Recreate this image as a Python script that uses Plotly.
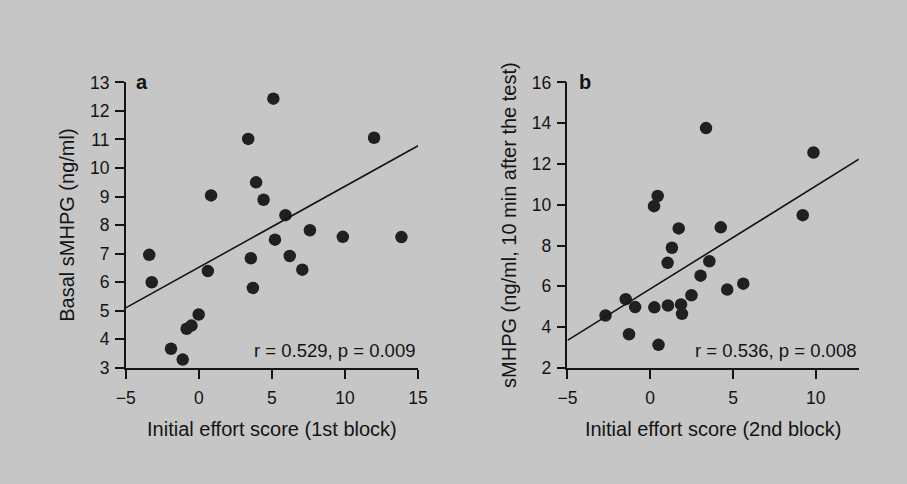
import plotly.graph_objects as go

# Panel a data
a_x = [5.10, 3.38, 11.99, 0.84, 3.92, 4.43, 5.93, 7.60, 9.85, 13.86, 5.21, 3.56,
       6.22, 7.08, 3.70, 0.62, -3.39, -3.22, -0.01, -0.50, -0.83, -1.90, -1.10]
a_y = [12.43, 11.02, 11.06, 9.04, 9.50, 8.89, 8.35, 7.82, 7.59, 7.58, 7.49, 6.84,
       6.92, 6.44, 5.80, 6.39, 6.96, 6.00, 4.87, 4.48, 4.37, 3.67, 3.29]
a_fit_x = [-5, 15]
a_fit_y = [5.10, 10.78]

# Panel b data
b_x = [3.37, 9.86, 9.21, 0.45, 0.23, 1.72, 4.26, 1.31, 1.05, 3.57, 3.04, 5.62,
       4.65, 2.49, -1.48, -0.91, 0.25, 1.07, 1.86, 1.92, -2.70, -1.28, 0.50]
b_y = [13.76, 12.56, 9.49, 10.43, 9.93, 8.84, 8.89, 7.89, 7.15, 7.23, 6.52, 6.13,
       5.84, 5.56, 5.37, 4.98, 4.97, 5.06, 5.11, 4.65, 4.57, 3.65, 3.13]
b_fit_x = [-5, 12.6]
b_fit_y = [3.35, 12.23]

a_xticks = [-5, 0, 5, 10, 15]
a_yticks = list(range(3, 14))
b_xticks = [-5, 0, 5, 10]
b_yticks = [2, 4, 6, 8, 10, 12, 14, 16]

FONT = "Liberation Sans, Arial, sans-serif"
INK = "#141414"
BG = "#c6c6c6"
W, H = 907, 484

fig = go.Figure()
mk = dict(size=12.5, color="#202020", line=dict(width=0))
fig.add_trace(go.Scatter(x=a_x, y=a_y, mode="markers", marker=mk, xaxis="x", yaxis="y", showlegend=False))
fig.add_trace(go.Scatter(x=a_fit_x, y=a_fit_y, mode="lines", line=dict(color=INK, width=1.6), xaxis="x", yaxis="y", showlegend=False))
fig.add_trace(go.Scatter(x=b_x, y=b_y, mode="markers", marker=mk, xaxis="x2", yaxis="y2", showlegend=False))
fig.add_trace(go.Scatter(x=b_fit_x, y=b_fit_y, mode="lines", line=dict(color=INK, width=1.6), xaxis="x2", yaxis="y2", showlegend=False))

ax_common = dict(showline=True, linecolor=INK, linewidth=1.6, ticks="outside", ticklen=9,
                 tickwidth=1.6, tickcolor=INK, showgrid=False, zeroline=False,
                 tickfont=dict(family=FONT, size=17.5, color=INK),
                 title_font=dict(family=FONT, size=20, color=INK))
x_extra = dict(ticklabelstandoff=4)
y_extra = dict(ticklabelstandoff=2)

ydom = [1 - 373.3 / H, 1 - 75.5 / H]
fig.update_layout(
    width=W, height=H, autosize=False,
    margin=dict(l=0, r=0, t=0, b=0),
    paper_bgcolor=BG, plot_bgcolor="rgba(0,0,0,0)",
    font=dict(family=FONT, color=INK),
    xaxis=dict(domain=[118.3 / W, 417.3 / W], range=[-5, 15], tickvals=a_xticks, anchor="y",
               title=dict(text="Initial effort score (1st block)", standoff=15), **ax_common, **x_extra),
    yaxis=dict(domain=ydom, range=[3, 13], tickvals=a_yticks, anchor="x",
               title=dict(text="Basal sMHPG (ng/ml)", standoff=10), **ax_common, **y_extra),
    xaxis2=dict(domain=[570 / W, 868 / W], range=[-5, 12.6], tickvals=b_xticks, anchor="y2",
                title=dict(text="Initial effort score (2nd block)", standoff=15), **ax_common, **x_extra),
    yaxis2=dict(domain=ydom, range=[2, 16], tickvals=b_yticks, anchor="x2",
                title=dict(text="sMHPG (ng/ml, 10 min after the test)", standoff=10), **ax_common, **y_extra),
    annotations=[
        dict(text="<b>a</b>", x=0.056, y=1.0, xref="x domain", yref="y domain", xanchor="center", yanchor="middle",
             showarrow=False, font=dict(family=FONT, size=20, color=INK)),
        dict(text="r = 0.529, p = 0.009", x=1.0, y=0.061, xref="x domain", yref="y domain", xanchor="right",
             yanchor="middle", showarrow=False, font=dict(family=FONT, size=18.5, color=INK)),
        dict(text="<b>b</b>", x=0.06, y=1.0, xref="x2 domain", yref="y2 domain", xanchor="center", yanchor="middle",
             showarrow=False, font=dict(family=FONT, size=20, color=INK)),
        dict(text="r = 0.536, p = 0.008", x=1.0, y=0.061, xref="x2 domain", yref="y2 domain", xanchor="right",
             yanchor="middle", showarrow=False, font=dict(family=FONT, size=18.5, color=INK)),
    ],
)

fig.write_html("out.html", config={"responsive": False, "displayModeBar": False},
               post_script="document.body.style.margin='0';document.body.style.background='%s';" % BG)
